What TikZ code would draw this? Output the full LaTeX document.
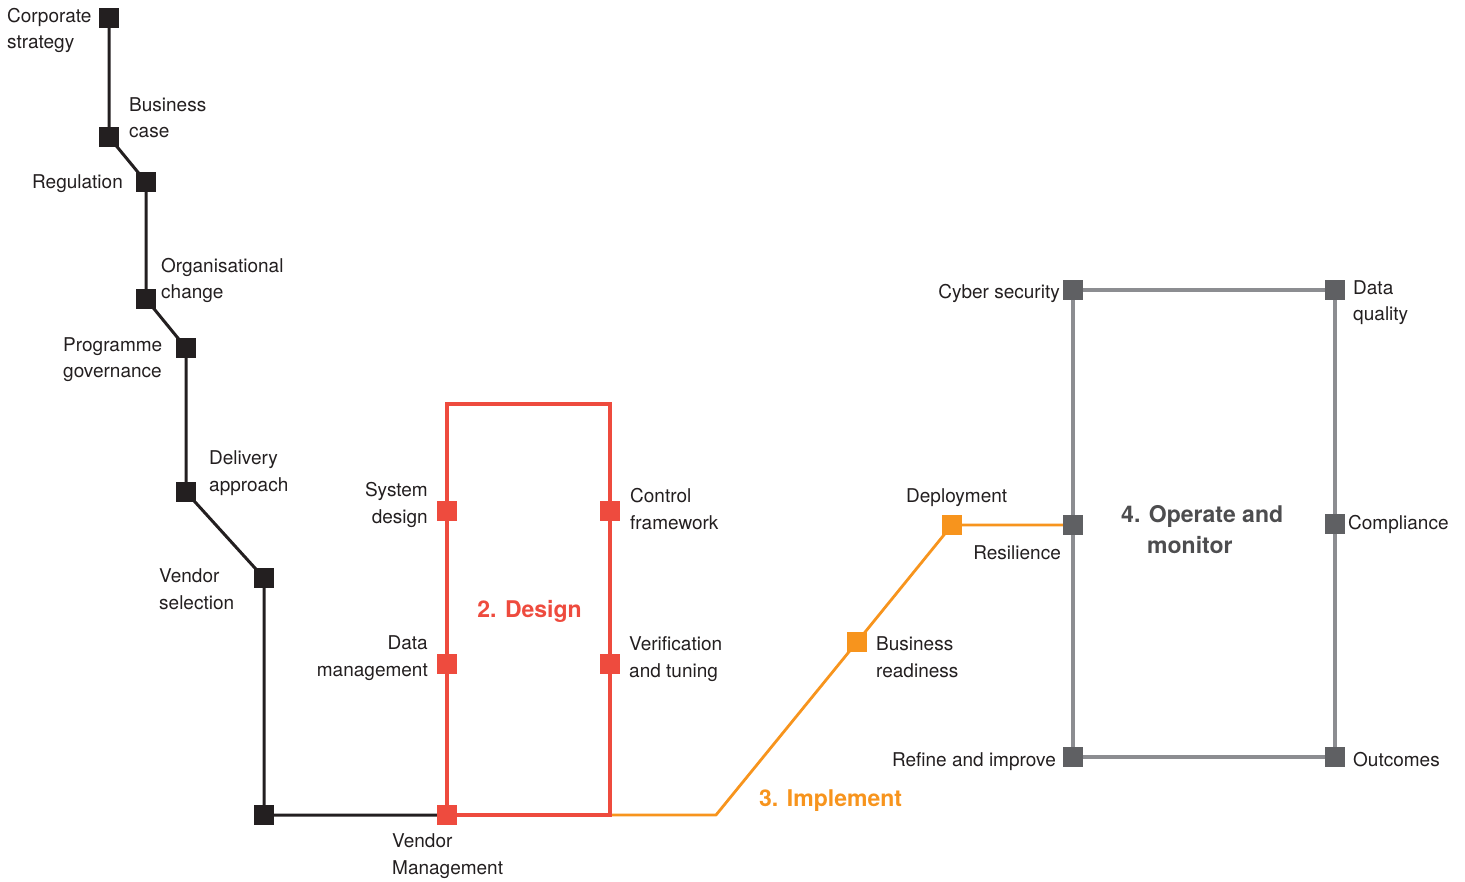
\documentclass[tikz,border=0pt]{standalone}
\usepackage{fontspec}
\setmainfont{TeX Gyre Heros}
\usetikzlibrary{backgrounds}
\definecolor{txt}{RGB}{35,31,32}
\definecolor{blk}{RGB}{35,31,32}
\definecolor{dred}{RGB}{238,75,62}
\definecolor{dorange}{RGB}{247,148,29}
\definecolor{graysq}{RGB}{95,96,99}
\definecolor{grayline}{RGB}{140,141,145}
\definecolor{titlegray}{RGB}{77,77,79}
\begin{document}
\begin{tikzpicture}[x=1pt,y=-1pt,
  sq/.style={rectangle, minimum size=20pt, inner sep=0pt, draw=none},
  lbl/.style={font=\fontsize{19}{26.5}\selectfont, text=txt, inner sep=0pt},
  ttl/.style={font=\fontsize{23}{31}\selectfont\bfseries, inner sep=0pt},
  blkline/.style={draw=blk, line width=3pt, line join=round},
  redline/.style={draw=dred, line width=3.5pt, line join=miter},
  orline/.style={draw=dorange, line width=2.8pt, line join=round},
  grline/.style={draw=grayline, line width=3.5pt, line join=miter}]
\useasboundingbox (0,0) rectangle (1465,882);

% black squares
\node[sq,fill=blk] (corp) at (109,18) {};
\node[sq,fill=blk] (bcase) at (109,137) {};
\node[sq,fill=blk] (reg) at (146,182) {};
\node[sq,fill=blk] (org) at (146,299) {};
\node[sq,fill=blk] (prog) at (186,348) {};
\node[sq,fill=blk] (deliv) at (186,492) {};
\node[sq,fill=blk] (vsel) at (264,578) {};
\node[sq,fill=blk] (corner) at (264,815) {};

% red squares
\node[sq,fill=dred] (sysd) at (447,511) {};
\node[sq,fill=dred] (datam) at (447,664) {};
\node[sq,fill=dred] (vman) at (447,815) {};
\node[sq,fill=dred] (ctrl) at (610,511) {};
\node[sq,fill=dred] (verif) at (610,664) {};
\coordinate (dtl) at (447,404);
\coordinate (dtr) at (610,404);
\coordinate (dbr) at (610,815);

% orange squares
\coordinate (ibend) at (716,815);
\node[sq,fill=dorange] (bread) at (857,642) {};
\node[sq,fill=dorange] (deploy) at (952,525) {};

% gray squares
\node[sq,fill=graysq] (cyber) at (1073,290) {};
\node[sq,fill=graysq] (dq) at (1335,290) {};
\node[sq,fill=graysq] (resil) at (1073,525) {};
\node[sq,fill=graysq] (comp) at (1335,524) {};
\node[sq,fill=graysq] (refine) at (1073,757) {};
\node[sq,fill=graysq] (outc) at (1335,757) {};

\begin{pgfonlayer}{background}
\draw[blkline] (corp.center) -- (bcase.center) -- (reg.center) -- (org.center) -- (prog.center) -- (deliv.center) -- (vsel.center) -- (corner.center) -- (vman.center);
\draw[orline] (dbr) -- (ibend) -- (bread.center) -- (deploy.center) -- (resil.center);
\draw[redline] (vman.center) -- (datam.center) -- (sysd.center) -- (dtl) -- (dtr) -- (ctrl.center) -- (verif.center) -- (dbr) -- cycle;
\draw[grline] (cyber.center) -- (dq.center) -- (comp.center) -- (outc.center) -- (refine.center) -- (resil.center) -- cycle;
\end{pgfonlayer}

% labels (base anchor = baseline of last line)
\node[lbl,anchor=base west,align=left] (lcorp) at (7,49) {Corporate\\strategy};
\node[lbl,anchor=base west,align=left] (lbcase) at (129,138) {Business\\case};
\node[lbl,anchor=base east] (lreg) at (123,189) {Regulation};
\node[lbl,anchor=base west,align=left] (lorg) at (161,299) {Organisational\\change};
\node[lbl,anchor=base west,align=left] (lprog) at (63,378) {Programme\\governance};
\node[lbl,anchor=base west,align=left] (ldeliv) at (209,491) {Delivery\\approach};
\node[lbl,anchor=base west,align=left] (lvsel) at (159,609) {Vendor\\selection};
\node[lbl,anchor=base east,align=right] (lsysd) at (428,523) {System\\design};
\node[lbl,anchor=base east,align=right] (ldatam) at (428,676) {Data\\management};
\node[lbl,anchor=base west,align=left] (lvman) at (392,874) {Vendor\\Management};
\node[lbl,anchor=base west,align=left] (lctrl) at (630,529) {Control\\framework};
\node[lbl,anchor=base west,align=left] (lverif) at (629,677) {Verification\\and tuning};
\node[lbl,anchor=base west] (ldeploy) at (906,502) {Deployment};
\node[lbl,anchor=base east] (lresil) at (1061,559) {Resilience};
\node[lbl,anchor=base west,align=left] (lbread) at (876,677) {Business\\readiness};
\node[lbl,anchor=base east] (lcyber) at (1060,299) {Cyber security};
\node[lbl,anchor=base west,align=left] (ldq) at (1353,321) {Data\\quality};
\node[lbl,anchor=base west] (lcomp) at (1348,529) {Compliance};
\node[lbl,anchor=base east] (lrefine) at (1056,766) {Refine and improve};
\node[lbl,anchor=base west] (loutc) at (1353,766) {Outcomes};

% titles
\node[ttl,text=dred,anchor=base] (tdesign) at (529.5,617) {2. Design};
\node[ttl,text=dorange,anchor=base west] (timpl) at (759,806) {3. Implement};
\node[ttl,text=titlegray,anchor=base west,align=left] (toper) at (1121,553) {4. Operate and\\\hspace*{26pt}monitor};
\end{tikzpicture}
\end{document}
